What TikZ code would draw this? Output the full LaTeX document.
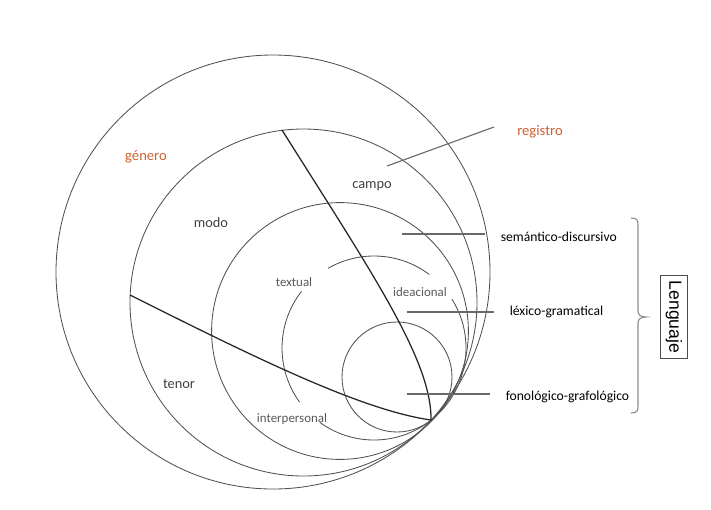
\documentclass[tikz,border=0pt]{standalone}
\usepackage{fontspec}
\setmainfont{Carlito}
\newfontfamily\boxfont{Liberation Sans}
\definecolor{orangeTxt}{RGB}{205,96,48}
\definecolor{ringGray}{RGB}{80,80,80}
\definecolor{tickGray}{RGB}{105,105,105}
\tikzset{
  ring/.style={draw=ringGray, line width=0.6pt},
  divide/.style={draw=black!85, line width=0.9pt},
  tick/.style={draw=tickGray, line width=0.8pt},
  zone/.style={text=black!75, font=\fontsize{10.2}{12}\selectfont, inner sep=0pt},
  sub/.style={text=black!65, font=\fontsize{9.2}{11}\selectfont, inner sep=0pt},
  outer/.style={text=orangeTxt, font=\fontsize{10.4}{12}\selectfont, inner sep=0pt},
  stratum/.style={text=black, font=\fontsize{9.7}{12}\selectfont, anchor=base west, inner xsep=11pt, inner ysep=0pt},
}

\begin{document}
\begin{tikzpicture}[x=0.025cm, y=-0.025cm]
\useasboundingbox (0,0) rectangle (711,509);
% nested circles, all touching near (431,420)
\draw[ring] (273,272) circle (217);
\draw[ring] (303.5,302.5) circle (173.5);
\draw[ring] (340,331) circle (128.4);
\draw[ring] (397,377) circle (55);
% metafunction circle, broken at its labels
\draw[ring] (374,348) ++(-120:92) arc[start angle=-120, end angle=-53, radius=92];
\draw[ring] (374,348) ++(-32:92) arc[start angle=-32, end angle=126, radius=92];
\draw[ring] (374,348) ++(144:92) arc[start angle=144, end angle=218, radius=92];
% campo / modo / tenor
\draw[divide] (282,130) .. controls (370,270) and (432,360) .. (431,420);
\draw[divide] (130,295) .. controls (250,355) and (360,410) .. (431,420);

\node[outer] (genero) at (146,157) {género};
\node[outer] (registro) at (540,132) {registro};
\node[zone] (campo) at (372,186) {campo};
\node[zone] (modo) at (211,223) {modo};
\node[zone] (tenor) at (179,384) {tenor};
\node[sub] (textual) at (294,282) {textual};
\node[sub] (ideacional) at (420,292) {ideacional};
\node[sub] (interpersonal) at (292,419) {interpersonal};

\coordinate (regIn) at (387,166);
\coordinate (regOut) at (494,127);
\draw[tick] (regIn) -- (regOut);

\node[stratum] (semantico) at (485,241.5) {semántico-discursivo};
\node[stratum] (lexico) at (494,315) {léxico-gramatical};
\node[stratum] (fonologico) at (490,400.5) {fonológico-grafológico};
\coordinate (semIn) at (402,234);
\coordinate (lexIn) at (407,312);
\coordinate (fonIn) at (407,394);
\draw[tick] (semIn) -- (semIn -| semantico.west);
\draw[tick] (lexIn) -- (lexIn -| lexico.west);
\draw[tick] (fonIn) -- (fonIn -| fonologico.west);

% brace round the three strata
\draw[tick, draw=black!45] (631,218) .. controls (637,218) and (638,220) .. (638,225) -- (638,311)
  .. controls (638,315) and (641,317) .. (646,317) .. controls (641,317) and (638,319) .. (638,323)
  -- (638,406) .. controls (638,411) and (637,413) .. (631,413);
\node[draw=black!70, line width=0.5pt, rotate=-90, inner sep=4pt,
  font=\boxfont\fontsize{12.5}{14}\selectfont] (lenguaje) at (674,317) {Lenguaje};
\end{tikzpicture}
\end{document}
